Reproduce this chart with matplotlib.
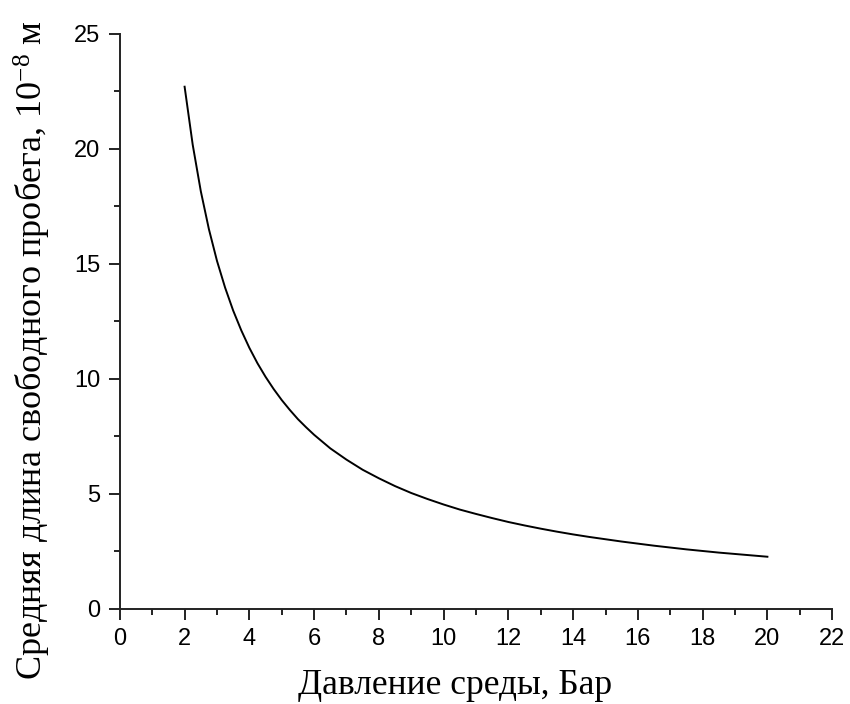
import matplotlib
matplotlib.use("Agg")
import matplotlib.pyplot as plt
from matplotlib.ticker import MultipleLocator

# ===== DATA =====
pressure = [2.0, 2.25, 2.5, 2.75, 3.0, 3.25, 3.5, 3.75, 4.0, 4.25, 4.5, 4.75,
            5.0, 5.25, 5.5, 5.75, 6.0, 6.5, 7.0, 7.5, 8.0, 8.5,
            9.0, 9.5, 10.0, 10.5, 11.0, 11.5, 12.0, 12.5, 13.0, 13.5, 14.0, 14.5,
            15.0, 15.5, 16.0, 16.5, 17.0, 17.5, 18.0, 18.5, 19.0, 19.5, 20.0]
free_path = [22.70, 20.18, 18.16, 16.51, 15.13, 13.97, 12.97, 12.11, 11.35,
             10.68, 10.09, 9.56, 9.08, 8.65, 8.25, 7.90, 7.57, 6.98,
             6.49, 6.05, 5.68, 5.34, 5.04, 4.78, 4.54, 4.32, 4.13, 3.95, 3.78,
             3.63, 3.49, 3.36, 3.24, 3.13, 3.03, 2.93, 2.84, 2.75, 2.67, 2.59,
             2.52, 2.45, 2.39, 2.33, 2.27]

x_label = "Давление среды, Бар"
y_label = "Средняя длина свободного пробега, 10$^{\\mathrm{-8}}$ м"

plt.rcParams['mathtext.default'] = 'regular'
plt.rcParams['mathtext.fontset'] = 'custom'
plt.rcParams['mathtext.rm'] = 'Liberation Serif'
plt.rcParams['axes.unicode_minus'] = False

fig = plt.figure(figsize=(8.5, 7.04), dpi=100)
ax = fig.add_axes([0.141, 0.135, 0.838, 0.817])

ax.plot(pressure, free_path, color="black", linewidth=1.4)

ax.set_xlim(0, 22)
ax.set_ylim(0, 25)
ax.xaxis.set_major_locator(MultipleLocator(2))
ax.xaxis.set_minor_locator(MultipleLocator(1))
ax.yaxis.set_major_locator(MultipleLocator(5))
ax.yaxis.set_minor_locator(MultipleLocator(2.5))

for s in ["top", "right"]:
    ax.spines[s].set_visible(False)
for s in ["left", "bottom"]:
    ax.spines[s].set_linewidth(1.4)
    ax.spines[s].set_color("#222222")

ax.tick_params(which="major", direction="out", length=8, width=1.4,
               labelsize=17, color="#222222", pad=6)
ax.tick_params(which="minor", direction="out", length=4, width=1.4, color="#222222")
for lab in ax.get_xticklabels() + ax.get_yticklabels():
    lab.set_fontfamily("Liberation Sans")

ax.set_xlabel(x_label, fontfamily="Liberation Serif", fontsize=25.5)
ax.set_ylabel(y_label, fontfamily="Liberation Serif", fontsize=26)
ax.xaxis.set_label_coords(0.47, -0.105)
ax.yaxis.set_label_coords(-0.094, 0.45)

fig.savefig("out.png", dpi=100)
